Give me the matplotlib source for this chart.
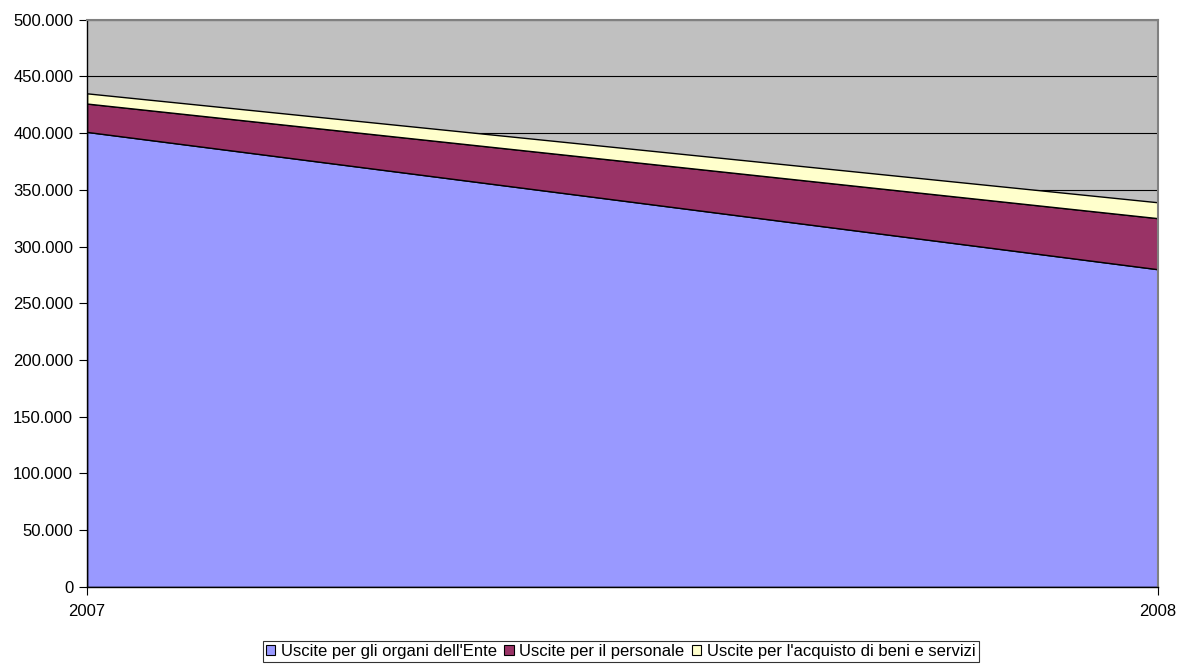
import matplotlib
matplotlib.use("Agg")
import matplotlib.pyplot as plt
import matplotlib.ticker as mticker
from matplotlib.patches import Patch

plt.rcParams['font.family'] = ['Liberation Sans', 'DejaVu Sans']

years = [2007, 2008]
organi = [401000, 280000]
personale = [25000, 45000]
beni_servizi = [9000, 14000]
labels = ["Uscite per gli organi dell'Ente", "Uscite per il personale",
          "Uscite per l'acquisto di beni e servizi"]
colors = ['#9999FF', '#993366', '#FFFFCC']

fig = plt.figure(figsize=(11.78, 6.64), dpi=100)
ax = fig.add_axes([0.0739, 0.116, 0.9091, 0.8545])
ax.set_facecolor('#C0C0C0')

ax.stackplot(years, organi, personale, beni_servizi, colors=colors,
             edgecolor='black', linewidth=1.0)

ax.set_xlim(2007, 2008)
ax.set_ylim(0, 500000)
ax.set_xticks(years)
ax.set_xticklabels([str(y) for y in years])
ax.yaxis.set_major_locator(mticker.MultipleLocator(50000))
ax.yaxis.set_major_formatter(mticker.FuncFormatter(
    lambda v, p: '{:,.0f}'.format(v).replace(',', '.')))
ax.grid(axis='y', color='black', linewidth=0.8)
ax.set_axisbelow(True)
ax.tick_params(labelsize=12, length=6, width=0.8, color='black', pad=4)
ax.tick_params(axis='x', pad=6)

for s in ['left', 'bottom']:
    ax.spines[s].set_color('black')
    ax.spines[s].set_linewidth(1.0)
for s in ['top', 'right']:
    ax.spines[s].set_color('#808080')
    ax.spines[s].set_linewidth(1.5)

handles = [Patch(facecolor=c, edgecolor='black', linewidth=0.8) for c in colors]
leg = fig.legend(handles, labels, loc='lower center', bbox_to_anchor=(0.527, 0.0),
                 ncol=3, fontsize=12, frameon=True, fancybox=False,
                 handlelength=0.55, handleheight=0.55, handletextpad=0.35,
                 columnspacing=0.45, borderpad=0.2, borderaxespad=0.1)
leg.get_frame().set_edgecolor('black')
leg.get_frame().set_linewidth(0.8)

plt.savefig('out.png', dpi=100)
